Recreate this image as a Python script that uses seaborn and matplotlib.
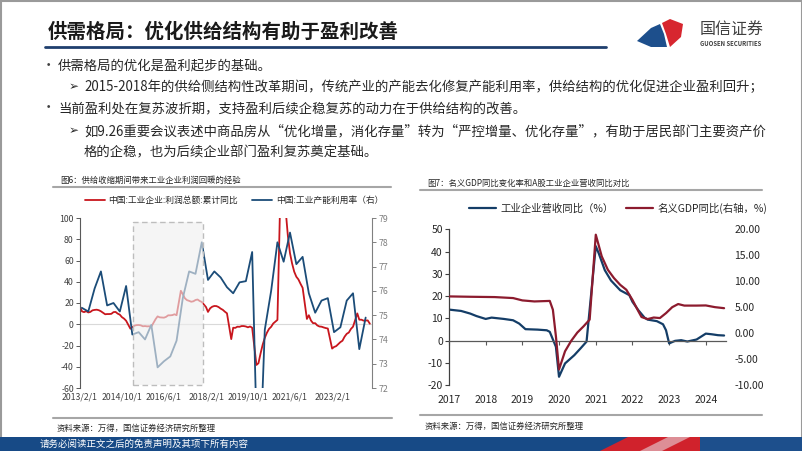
import numpy as np
import pandas as pd
import matplotlib
matplotlib.use("Agg")
import matplotlib.pyplot as plt
import matplotlib.dates as mdates
import matplotlib.ticker as mticker
import seaborn as sns
from matplotlib.patches import Rectangle, Polygon
from matplotlib.lines import Line2D

# ---------------- data: Fig 6 ----------------
# Industrial enterprise profit, cumulative YoY (%), monthly from Feb of each year
profit_2013 = [17.0, 12.1, 11.4, 12.3, 11.1, 11.6, 13.1, 13.5, 13.7, 13.2, 12.2]
profit_2014 = [9.4, 9.6, 9.6, 9.8, 11.4, 11.6, 10.0, 9.0, 6.7, 5.3, 3.3]
profit_2015 = [-4.2, -2.7, -1.3, -0.8, -0.7, -1.0, -1.9, -1.7, -2.0, -1.9, -2.3]
profit_2016 = [4.8, 7.4, 6.5, 6.4, 6.2, 6.9, 8.4, 8.4, 8.6, 9.4, 8.5]
profit_2017 = [31.5, 28.3, 24.4, 22.7, 22.0, 21.2, 21.6, 22.8, 23.3, 21.9, 21.0]
profit_2018 = [16.1, 11.6, 15.0, 16.5, 17.2, 17.1, 16.2, 14.7, 13.6, 11.8, 10.3]
profit_2019 = [-14.0, -3.3, -3.4, -2.3, -2.4, -1.7, -1.7, -2.1, -2.9, -2.1, -3.3]
profit_2020 = [-38.3, -36.7, -27.4, -19.3, -12.8, -8.1, -4.4, -2.4, 0.7, 2.4, 4.1]
profit_2021 = [178.9, 137.3, 106.0, 83.4, 66.9, 57.3, 49.5, 44.7, 42.2, 38.0, 34.3]
profit_2022 = [5.0, 8.5, 3.5, 1.0, 1.0, -1.1, -2.1, -2.3, -3.0, -3.6, -4.0]
profit_2023 = [-22.9, -21.4, -20.6, -18.8, -16.8, -15.5, -11.7, -9.0, -7.8, -4.4, -2.3]
profit_2024 = [10.2, 4.3, 4.3, 3.4, 3.5, 3.6, 0.5]

# Industrial capacity utilization (%), quarterly 2013Q1 - 2024Q2
capacity_util = [75.3, 75.15, 76.1, 76.8,
                 75.4, 75.5, 75.15, 76.2,
                 74.2, 74.3, 74.0, 74.6,
                 72.85, 73.1, 73.3, 73.95,
                 75.7, 76.8, 76.7, 78.0,
                 76.45, 76.8, 76.55, 76.15,
                 75.9, 76.35, 76.4, 77.6,
                 67.3, 74.4, 76.0, 78.0,
                 77.2, 78.4, 77.1, 77.4,
                 75.9, 75.1, 75.6, 75.7,
                 74.3, 74.5, 75.6, 75.9,
                 73.6, 74.9]

fig6_ticks = ["2013/2/1", "2014/10/1", "2016/6/1", "2018/2/1",
              "2019/10/1", "2021/6/1", "2023/2/1"]
fig6_labels = ["中国:工业企业:利润总额:累计同比", "中国:工业产能利用率（右）"]

# ---------------- data: Fig 7 ----------------
rev_dates = ["2017-01", "2017-05", "2017-08", "2017-10", "2018-01", "2018-03",
             "2018-07", "2018-10", "2018-12", "2019-02", "2019-06", "2019-09",
             "2019-10", "2019-12", "2020-01", "2020-03", "2020-06", "2020-08",
             "2020-10", "2021-01", "2021-02", "2021-04", "2021-06", "2021-09",
             "2021-12", "2022-01", "2022-03", "2022-05", "2022-06", "2022-09",
             "2022-11", "2022-12", "2023-01", "2023-03", "2023-05", "2023-07",
             "2023-10", "2024-01", "2024-03", "2024-05", "2024-07"]
rev_yoy = [13.9, 13.3, 12.1, 11.0, 9.7, 10.3,
           9.7, 9.1, 7.6, 5.1, 4.9, 4.6,
           3.9, -2.8, -16.3, -10.3, -6.6, -3.6,
           -0.5, 42.4, 39.0, 31.6, 27.0, 22.6,
           20.4, 17.4, 13.6, 10.3, 9.4, 8.7,
           7.3, 4.6, -1.3, -0.15, 0.15, -0.45,
           0.45, 3.1, 2.8, 2.4, 2.25]

gdp_dates = ["2017-01", "2017-08", "2018-04", "2018-10", "2019-01", "2019-05",
             "2019-10", "2019-11", "2019-12", "2020-01", "2020-03", "2020-05",
             "2020-07", "2020-09", "2020-11", "2021-01", "2021-03", "2021-05",
             "2021-07", "2021-09", "2021-11", "2022-01", "2022-03", "2022-04",
             "2022-06", "2022-08", "2022-10", "2022-12", "2023-02", "2023-04",
             "2023-06", "2023-10", "2024-01", "2024-04", "2024-07"]
gdp_yoy = [7.07, 7.0, 6.94, 6.75, 6.3, 6.1,
           6.2, 4.5, -0.6, -7.0, -3.5, -1.5,
           0.1, 1.3, 2.6, 18.96, 14.8, 12.2,
           10.6, 9.3, 8.35, 6.4, 4.2, 3.1,
           2.7, 3.0, 2.9, 3.85, 5.0, 5.6,
           5.3, 5.3, 5.33, 5.0, 4.8]

fig7_years = ["2017", "2018", "2019", "2020", "2021", "2022", "2023", "2024"]
fig7_labels = ["工业企业营收同比（%）", "名义GDP同比(右轴，%)"]

# ---------------- tables ----------------
profit_by_year = [profit_2013, profit_2014, profit_2015, profit_2016, profit_2017,
                  profit_2018, profit_2019, profit_2020, profit_2021, profit_2022,
                  profit_2023, profit_2024]
parts = []
for i, vals in enumerate(profit_by_year):
    d = pd.date_range(f"{2013 + i}-02-01", periods=len(vals), freq="MS")
    parts.append(pd.DataFrame({"date": d, "value": vals}))
profit_df = pd.concat(parts, ignore_index=True)
cap_df = pd.DataFrame({"date": pd.date_range("2013-03-01", periods=len(capacity_util), freq="3MS"),
                       "value": capacity_util})
rev_df = pd.DataFrame({"date": pd.to_datetime(rev_dates), "value": rev_yoy})
gdp_df = pd.DataFrame({"date": pd.to_datetime(gdp_dates), "value": gdp_yoy})

# ---------------- styling ----------------
sns.set_theme(style="white")
plt.rcParams["font.family"] = ["Noto Sans CJK SC", "DejaVu Sans"]
plt.rcParams["axes.unicode_minus"] = False

W, H = 802, 451
fig = plt.figure(figsize=(W / 100, H / 100), dpi=100)
fig.patch.set_facecolor("white")

bg = fig.add_axes([0, 0, 1, 1])
bg.set_xlim(0, W)
bg.set_ylim(H, 0)
bg.axis("off")


def px_rect(x0, y0, x1, y1):
    return [x0 / W, 1 - y1 / H, (x1 - x0) / W, (y1 - y0) / H]


TXT = "#262626"
FAM = ["Noto Sans CJK SC", "DejaVu Sans"]

# slide frame
bg.add_patch(Rectangle((0.5, 0.5), W - 1, H - 1, fill=False, edgecolor="#9a9a9a", lw=1.5))

# title and underline
bg.text(48, 32, "供需格局：优化供给结构有助于盈利改善", fontsize=14, fontweight="bold",
        va="center", ha="left", color="#1a1a1a")
bg.add_line(Line2D([45, 606], [46.5, 46.5], color="#1f3f6e", lw=2))

# logo
bg.add_patch(Polygon([(637, 41), (651, 28), (660, 24), (664, 34), (667, 47), (651, 47)],
                     closed=True, facecolor="#1d4f8c", edgecolor="none"))
bg.add_patch(Polygon([(662, 23), (670, 19), (683, 24), (681, 37), (670, 47), (666, 34)],
                     closed=True, facecolor="#d7262f", edgecolor="none"))
bg.text(700, 30, "国信证券", fontsize=11.5, color="#404040", va="center", ha="left")
bg.text(700, 44, "GUOSEN SECURITIES", fontsize=4.3, color="#404040", va="center", ha="left",
        fontweight="bold")

# bullet text
BFS = 9.6
bg.text(42, 66, "•", fontsize=BFS, color="#404040", va="center", ha="left", family=FAM)
bg.text(58, 66, "供需格局的优化是盈利起步的基础。", fontsize=BFS, color=TXT, va="center", ha="left")
bg.text(69, 87, "➢", fontsize=BFS - 1, color=TXT, va="center", ha="left", family=["DejaVu Sans"])
bg.text(84, 87, "2015-2018年的供给侧结构性改革期间，传统产业的产能去化修复产能利用率，供给结构的优化促进企业盈利回升；",
        fontsize=BFS, color=TXT, va="center", ha="left")
bg.text(42, 108, "•", fontsize=BFS, color="#404040", va="center", ha="left", family=FAM)
bg.text(58, 108, "当前盈利处在复苏波折期，支持盈利后续企稳复苏的动力在于供给结构的改善。",
        fontsize=BFS, color=TXT, va="center", ha="left")
bg.text(69, 131, "➢", fontsize=BFS - 1, color=TXT, va="center", ha="left", family=["DejaVu Sans"])
bg.text(84, 131, "如9.26重要会议表述中商品房从“优化增量，消化存量”转为“严控增量、优化存量”，有助于居民部门主要资产价",
        fontsize=BFS, color=TXT, va="center", ha="left")
bg.text(84, 152, "格的企稳，也为后续企业部门盈利复苏奠定基础。", fontsize=BFS, color=TXT,
        va="center", ha="left")

# chart captions / rules / sources
bg.text(60, 180, "图6：供给收缩期间带来工业企业利润回暖的经验", fontsize=6, color=TXT, va="center")
bg.add_line(Line2D([53, 391], [187, 187], color="#a6a6a6", lw=1.5))
bg.text(427, 183, "图7：名义GDP同比变化率和A股工业企业营收同比对比", fontsize=6, color=TXT, va="center")
bg.add_line(Line2D([420, 762], [190, 190], color="#a6a6a6", lw=1.5))
bg.add_line(Line2D([53, 392], [418, 418], color="#a6a6a6", lw=1.5))
bg.text(57, 428, "资料来源：万得，国信证券经济研究所整理", fontsize=6, color=TXT, va="center")
bg.add_line(Line2D([420, 762], [415, 415], color="#a6a6a6", lw=1.5))
bg.text(425, 426, "资料来源：万得，国信证券经济研究所整理", fontsize=6, color=TXT, va="center")

# footer bar
bg.add_patch(Rectangle((0, 437), W, 14, facecolor="#174a86", edgecolor="none"))
bg.add_patch(Polygon([(600, 451), (628, 437), (700, 437), (700, 451)], closed=True,
                     facecolor="#d0222c", edgecolor="none"))
bg.add_patch(Polygon([(640, 451), (668, 437), (690, 437), (662, 451)], closed=True,
                     facecolor="#e8e8ee", edgecolor="none", alpha=0.55))
bg.add_patch(Polygon([(700, 437), (802, 437), (802, 451), (700, 451)], closed=True,
                     facecolor="#1d4f8c", edgecolor="none"))
bg.text(40, 444, "请务必阅读正文之后的免责声明及其项下所有内容", fontsize=6.8, color="white", va="center")

# ---------------- Fig 6 ----------------
RED1 = "#c8161d"
BLUE1 = "#1b4c78"
axL = fig.add_axes(px_rect(80, 218, 372, 388))
axL.set_facecolor("none")
axL.axhline(0, color="#d9d9d9", lw=0.8, zorder=0)
sns.lineplot(data=profit_df, x="date", y="value", ax=axL, color=RED1, linewidth=1.3, legend=False)
axL.set_ylim(-60, 100)
axL.set_yticks(range(-60, 101, 20))
x_start = pd.Timestamp("2013-02-01")
x_end = pd.Timestamp("2024-09-01")
axL.set_xlim(x_start, x_end)
tick_dates = [pd.to_datetime(t, format="%Y/%m/%d") for t in fig6_ticks]
axL.set_xticks(tick_dates)
axL.set_xticklabels(fig6_ticks)
axL.set_xlabel("")
axL.set_ylabel("")
axL2 = axL.twinx()
sns.lineplot(data=cap_df, x="date", y="value", ax=axL2, color=BLUE1, linewidth=1.3, legend=False)
axL2.set_ylim(72, 79)
axL2.set_yticks(range(72, 80))
axL2.set_xlim(x_start, x_end)
axL2.set_ylabel("")
axL2.set_xlabel("")

for s in ["top", "bottom", "right"]:
    axL.spines[s].set_visible(False)
axL.spines["left"].set_color("#595959")
axL.spines["left"].set_linewidth(0.8)
for s in ["top", "bottom", "left"]:
    axL2.spines[s].set_visible(False)
axL2.spines["right"].set_color("#808080")
axL2.spines["right"].set_linewidth(0.8)
axL.tick_params(axis="y", direction="out", length=3, width=0.7, color="#595959",
                labelsize=6.3, labelcolor="#404040", pad=1.5, left=True)
axL.tick_params(axis="x", length=0, labelsize=6.3, labelcolor="#404040", pad=3)
axL2.tick_params(axis="y", direction="out", length=3, width=0.7, color="#808080",
                 labelsize=6.3, labelcolor="#7f7f7f", pad=2, right=True)

# shaded supply-side reform window
sx0 = mdates.date2num(pd.Timestamp("2015-03-06"))
sx1 = mdates.date2num(pd.Timestamp("2017-12-18"))
axL2.add_patch(Rectangle((sx0, -57), sx1 - sx0, 153, transform=axL.transData,
                         facecolor="#efefef", edgecolor="none", alpha=0.62, zorder=10))
axL2.add_patch(Rectangle((sx0, -57), sx1 - sx0, 153, transform=axL.transData,
                         fill=False, edgecolor="#bdbdbd", lw=1.0, ls=(0, (4, 2.5)), zorder=11))

fig.legend(handles=[axL.get_lines()[-1], axL2.get_lines()[0]], labels=fig6_labels,
           loc="center", bbox_to_anchor=(234 / W, 1 - 200.5 / H), ncol=2, frameon=False,
           fontsize=6.3, handlelength=2.3, handletextpad=0.4, columnspacing=1.6,
           labelcolor=TXT)

# ---------------- Fig 7 ----------------
RED2 = "#8c1b2e"
BLUE2 = "#143d67"
axR = fig.add_axes(px_rect(449, 229.3, 726, 385))
axR.set_facecolor("none")
sns.lineplot(data=rev_df, x="date", y="value", ax=axR, color=BLUE2, linewidth=1.6, legend=False)
axR.set_ylim(-20, 50)
axR.set_yticks(range(-20, 51, 10))
r_start = pd.Timestamp("2017-01-01")
r_end = pd.Timestamp("2024-07-20")
axR.set_xlim(r_start, r_end)
axR.set_xticks([pd.Timestamp(f"{y}-01-01") for y in fig7_years])
axR.set_xticklabels(fig7_years)
axR.set_xlabel("")
axR.set_ylabel("")
axR2 = axR.twinx()
sns.lineplot(data=gdp_df, x="date", y="value", ax=axR2, color=RED2, linewidth=1.6, legend=False)
axR2.set_ylim(-10, 20)
axR2.set_yticks(range(-10, 21, 5))
axR2.yaxis.set_major_formatter(mticker.FormatStrFormatter("%.2f"))
axR2.set_xlim(r_start, r_end)
axR2.set_xlabel("")
axR2.set_ylabel("")

for s in ["top", "right"]:
    axR.spines[s].set_visible(False)
axR.spines["left"].set_color("#404040")
axR.spines["left"].set_linewidth(0.9)
axR.spines["bottom"].set_position(("data", 0))
axR.spines["bottom"].set_color("#595959")
axR.spines["bottom"].set_linewidth(0.9)
for s in ["top", "right", "left", "bottom"]:
    axR2.spines[s].set_visible(False)
axR.tick_params(axis="y", direction="out", length=3, width=0.8, color="#404040",
                labelsize=7.5, labelcolor=TXT, pad=1.5, left=True)
axR.tick_params(axis="x", direction="out", length=3, width=0.8, color="#595959",
                labelsize=7.5, labelcolor=TXT, pad=36, bottom=True)
axR2.tick_params(axis="y", length=0, labelsize=7.5, labelcolor=TXT, pad=6)

fig.legend(handles=[axR.get_lines()[0], axR2.get_lines()[0]], labels=fig7_labels,
           loc="center", bbox_to_anchor=(618 / W, 1 - 208 / H), ncol=2, frameon=False,
           fontsize=7.5, handlelength=2.6, handletextpad=0.4, columnspacing=1.2,
           labelcolor=TXT)

fig.savefig("out.png", dpi=100, facecolor="white")
